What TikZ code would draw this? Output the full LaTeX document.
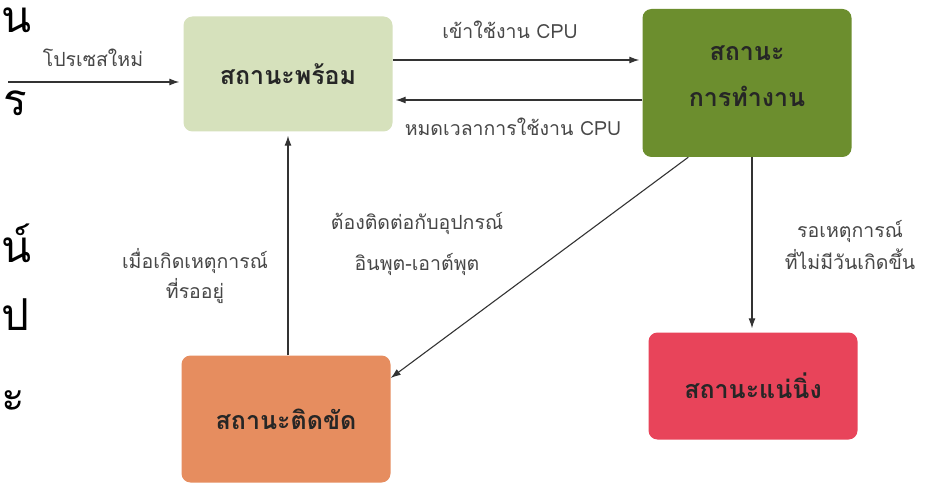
\documentclass[tikz,border=0pt]{standalone}
\usepackage{fontspec}
\newfontfamily\thai[Script=Thai]{Loma}
\usetikzlibrary{arrows.meta}
\definecolor{readyc}{HTML}{D6E1BC}
\definecolor{runc}{HTML}{6C8E2E}
\definecolor{deadc}{HTML}{E8445A}
\definecolor{blockc}{HTML}{E68D5F}
\definecolor{ink}{HTML}{333333}
\begin{document}
\begin{tikzpicture}[x=1pt,y=-1pt,
 box/.style={rounded corners=9pt, minimum width=209pt, align=center,
   font=\thai\bfseries\fontsize{25}{46}\selectfont, text=black!85, draw=none},
 lbl/.style={font=\thai\fontsize{19.5}{30}\selectfont, text=black!72, align=center, inner sep=1pt},
 frag/.style={font=\thai\fontsize{44}{50}\selectfont, anchor=base west, inner sep=0pt, text=black},
 arr/.style={-{Latex[length=10pt,width=7pt]}, line width=1.1pt, draw=ink}]
\useasboundingbox (0,0) rectangle (927,484);
\fill[white] (0,0) rectangle (927,484);
% boxes
\node[box, fill=readyc, minimum height=115pt] (ready) at (288,74) {สถานะพร้อม};
\node[box, fill=runc, minimum height=148pt, text depth=14pt] (run) at (747,83) {สถานะ\\การทำงาน};
\node[box, fill=deadc, minimum height=107pt] (dead) at (753,386) {สถานะแน่นิ่ง};
\node[box, fill=blockc, minimum height=127pt] (block) at (286,419) {สถานะติดขัด};
% helper coordinates
\coordinate (newstart) at (8,82);
\coordinate (topy) at (0,60);
\coordinate (boty) at (0,100);
% connectors
\draw[arr, shorten >=4pt] (newstart) -- (ready.west |- newstart);
\draw[arr, shorten >=3pt] (ready.east |- topy) -- (run.west |- topy);
\draw[arr, shorten >=3pt] (run.west |- boty) -- (ready.east |- boty);
\draw[arr, shorten >=4pt] (block.north -| 288,0) -- (ready.south -| 288,0);
\draw[arr, shorten >=4pt] (run.south -| 752,0) -- (dead.north -| 752,0);
\draw[arr] ([xshift=46pt]run.south west) -- ([yshift=41pt]block.east);
% labels
\node[lbl] (lnew) at (93,58) {โปรเซสใหม่};
\node[lbl] (lin) at (510,30) {เข้าใช้งาน CPU};
\node[lbl] (lout) at (513,127) {หมดเวลาการใช้งาน CPU};
\node[lbl] (lio) at (417,244) {ต้องติดต่อกับอุปกรณ์\\[11pt]อินพุต-เอาต์พุต};
\node[lbl] (lev) at (195,276) {เมื่อเกิดเหตุการณ์\\ที่รออยู่};
\node[lbl] (lwait) at (850,245) {รอเหตุการณ์\\[2pt]ที่ไม่มีวันเกิดขึ้น};
% cropped text fragments at left edge
\node[frag] (f1) at (1,33) {น};
\node[frag] (f2) at (3,116) {ร};
\node[frag] (f3) at (1,262) {น์};
\node[frag] (f4) at (1,330) {ป};
\node[frag] (f5) at (1,411) {ะ};
\end{tikzpicture}
\end{document}
